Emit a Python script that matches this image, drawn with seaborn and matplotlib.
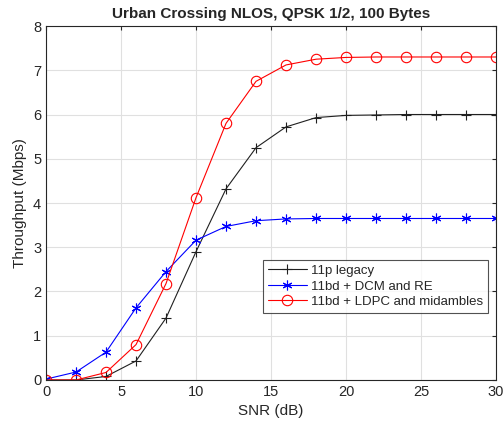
import matplotlib
matplotlib.use('Agg')
import matplotlib.pyplot as plt
import seaborn as sns
import pandas as pd

# Data
snr = [0, 2, 4, 6, 8, 10, 12, 14, 16, 18, 20, 22, 24, 26, 28, 30]
legacy = [0.0, 0.0, 0.08, 0.43, 1.40, 2.90, 4.32, 5.25, 5.72, 5.93, 5.98, 5.99, 6.0, 6.0, 6.0, 6.0]
dcm_re = [0.02, 0.18, 0.63, 1.63, 2.45, 3.16, 3.47, 3.60, 3.64, 3.65, 3.65, 3.65, 3.65, 3.65, 3.65, 3.65]
ldpc_mid = [0.0, 0.0, 0.17, 0.80, 2.18, 4.12, 5.80, 6.75, 7.12, 7.25, 7.29, 7.30, 7.30, 7.30, 7.30, 7.30]
names = ['11p legacy', '11bd + DCM and RE', '11bd + LDPC and midambles']

sns.set_style('white')
plt.rcParams['font.family'] = ['Liberation Sans', 'DejaVu Sans']

df = pd.DataFrame({'snr': snr * 3,
                   'tput': legacy + dcm_re + ldpc_mid,
                   'scheme': [names[0]] * 16 + [names[1]] * 16 + [names[2]] * 16})

fig = plt.figure(figsize=(5.04, 4.30), dpi=100)
ax = fig.add_axes([0.0913, 0.1163, 0.8929, 0.8232])

palette = {names[0]: '#202020', names[1]: 'blue', names[2]: 'red'}
markers = {names[0]: '+', names[1]: (6, 2, 0), names[2]: 'o'}
sizes = {names[0]: 7, names[1]: 7, names[2]: 7.5}
for name in names:
    sub = df[df['scheme'] == name]
    sns.lineplot(data=sub, x='snr', y='tput', ax=ax, color=palette[name],
                 marker=markers[name], markersize=sizes[name],
                 markerfacecolor='none', markeredgecolor=palette[name],
                 markeredgewidth=0.8, linewidth=0.8, label=name)

ax.set_xlim(0, 30)
ax.set_ylim(0, 8)
ax.set_xticks(range(0, 31, 5))
ax.set_yticks(range(0, 9))
ax.grid(True, color='#e0e0e0', linewidth=0.8)
ax.tick_params(direction='in', length=3, labelsize=10.5, top=True, right=True,
               colors='#262626')
for s in ax.spines.values():
    s.set_color('#262626')
    s.set_linewidth(0.8)
ax.set_xlabel('SNR (dB)', fontsize=11, color='#262626')
ax.set_ylabel('Throughput (Mbps)', fontsize=11, color='#262626')
ax.set_title('Urban Crossing NLOS, QPSK 1/2, 100 Bytes', fontsize=11,
             fontweight='bold', pad=6)

leg = ax.legend(loc='lower right', bbox_to_anchor=(0.982, 0.19), fontsize=9.5,
                frameon=True, fancybox=False, edgecolor='#262626',
                borderpad=0.35, labelspacing=0.25, handlelength=3.0,
                handletextpad=0.3, borderaxespad=0)
leg.get_frame().set_linewidth(0.8)

fig.savefig('out.png', dpi=100)
